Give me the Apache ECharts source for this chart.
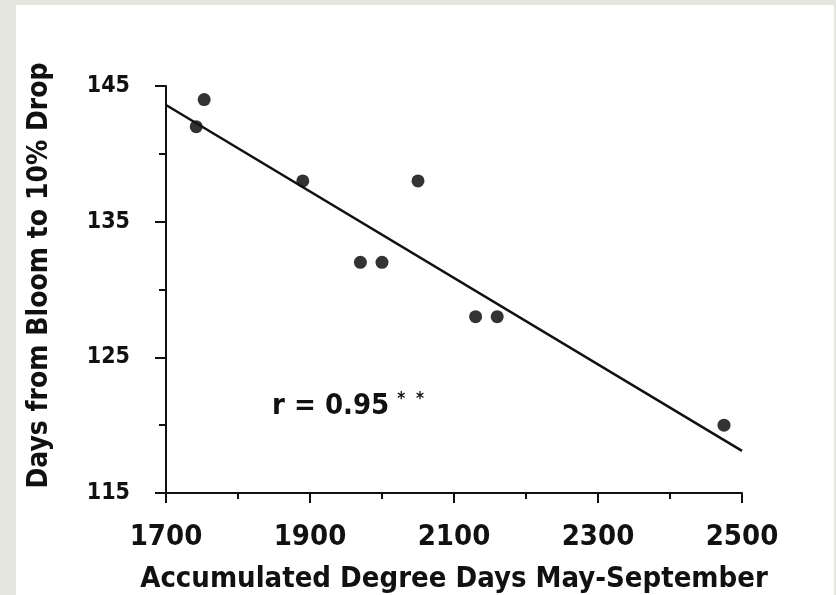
<!DOCTYPE html>
<html>
<head>
<meta charset="utf-8">
<script src="https://cdn.jsdelivr.net/npm/echarts@6/dist/echarts.min.js"></script>
<style>
    html, body { margin:0; padding:0; background:#e5e5df; }
    #chart_div { position:absolute; left:16px; top:5px; width:818px; height:590px; background:#fff; }
</style>
</head>
<body>
<div id="chart_div"></div>
<script>
// observed points
var degreeDays = [1742, 1753, 1890, 1970, 2000, 2050, 2130, 2160, 2475];
var bloomDays  = [142, 144, 138, 132, 132, 138, 128, 128, 120];
// regression line ends
var fitX = [1700, 2500];
var fitY = [143.6, 118.1];
var xTicks = [1700, 1900, 2100, 2300, 2500];
var yTicks = [115, 125, 135, 145];
var rLabel = 'r = 0.95';

var font = "'Liberation Sans Narrow', 'DejaVu Sans Condensed', 'Arial Narrow', sans-serif";
var ink = '#111';

var chart = echarts.init(document.getElementById('chart_div'));

var pts = degreeDays.map(function(v, i){ return [v, bloomDays[i]]; });
var fit = fitX.map(function(v, i){ return [v, fitY[i]]; });

var option = {
    animation: false,
    grid: { left: 150, top: 81, right: 92, bottom: 102, outerBoundsMode: 'none' },
    xAxis: {
        type: 'value',
        min: xTicks[0], max: xTicks[xTicks.length - 1], interval: 200,
        name: 'Accumulated Degree Days May-September',
        nameLocation: 'middle', nameGap: 72,
        nameTextStyle: { fontFamily: font, fontWeight: 'bold', fontSize: 29, color: ink },
        axisLine: { lineStyle: { color: ink, width: 2 } },
        axisTick: { length: 10, lineStyle: { color: ink, width: 2 } },
        minorTick: { show: true, splitNumber: 2, length: 6, lineStyle: { color: ink, width: 2 } },
        splitLine: { show: false },
        axisLabel: { fontFamily: font, fontWeight: 'bold', fontSize: 29, color: ink, margin: 30,
            formatter: function(v){ return String(v); } }
    },
    yAxis: {
        type: 'value',
        min: yTicks[0], max: yTicks[yTicks.length - 1], interval: 10,
        name: 'Days from Bloom to 10% Drop',
        nameLocation: 'middle', nameGap: 112,
        nameTextStyle: { fontFamily: font, fontWeight: 'bold', fontSize: 28, color: ink, padding: [0, 0, 0, 28] },
        axisLine: { show: true, lineStyle: { color: ink, width: 2 } },
        axisTick: { show: true, length: 11, lineStyle: { color: ink, width: 2 } },
        minorTick: { show: true, splitNumber: 2, length: 7, lineStyle: { color: ink, width: 2 } },
        splitLine: { show: false },
        axisLabel: { fontFamily: font, fontWeight: 'bold', fontSize: 23, color: ink, margin: 36 }
    },
    graphic: [{
        type: 'text',
        left: 256, top: 386,
        style: {
            text: '{a|' + rLabel + '}{b|*  *}',
            rich: {
                a: { fontFamily: font, fontWeight: 'bold', fontSize: 29, fill: ink },
                b: { fontFamily: font, fontWeight: 'bold', fontSize: 17, fill: ink, verticalAlign: 'top', padding: [0, 0, 14, 8] }
            }
        }
    }],
    series: [{
        type: 'line',
        data: fit,
        symbol: 'none',
        lineStyle: { color: ink, width: 2.5 }
    }, {
        type: 'scatter',
        data: pts,
        symbolSize: 13,
        itemStyle: { color: '#000' }
    }]
};
chart.setOption(option);
</script>
</body>
</html>
